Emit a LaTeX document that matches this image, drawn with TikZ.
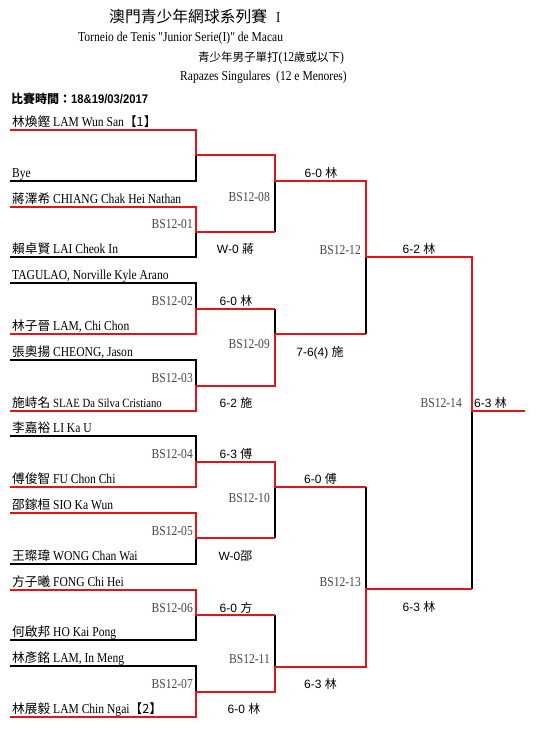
\documentclass[tikz,border=0pt]{standalone}
\usepackage{fontspec}
\setmainfont{Liberation Serif}[FakeStretch=0.85]
\newfontfamily\qfont{Liberation Serif}[FakeStretch=0.85,Ligatures=TeXOff]
\newfontfamily\cjk{Noto Sans CJK TC}
\newfontfamily\sansf{Liberation Sans}
\newfontfamily\sansn{Liberation Sans}[FakeStretch=0.9]
\definecolor{bred}{RGB}{225,20,25}
\definecolor{labgray}{RGB}{70,70,70}
\newcommand\nmf{\fontsize{13.6}{15}\selectfont}
\newcommand\zh[1]{{\cjk\fontsize{12.7}{15}\selectfont #1}}
\newcommand\zs[1]{{\cjk\fontsize{12}{14}\selectfont #1}}
\newcommand\dq{{\qfont\nmf "}}
\begin{document}
\begin{tikzpicture}[x=1pt,y=-1pt,
  win/.style={draw=bred,line width=1.8pt},
  lose/.style={draw=black,line width=1.8pt},
  player/.style={anchor=base west,inner sep=0,font=\nmf},
  mlab/.style={anchor=base east,inner sep=0,font=\nmf,text=labgray},
  score/.style={anchor=base,inner sep=0,font=\sansf\fontsize{12}{14}\selectfont},
  hdr/.style={anchor=base west,inner sep=0,font=\nmf}]
\useasboundingbox (0,0) rectangle (536,752);
% header
\node[hdr] (title) at (109,23) {{\cjk\fontsize{15.8}{18}\selectfont 澳門青少年網球系列賽}\hspace{9pt}{\fontsize{15}{18}\selectfont I}};
\node[hdr] (sub1) at (78,42) {Torneio de Tenis \dq Junior Serie(I)\dq\ de Macau};
\node[hdr] (sub2) at (198,62) {{\cjk\fontsize{11.5}{14}\selectfont 青少年男子單打}(12{\cjk\fontsize{11.5}{14}\selectfont 歲或以下})};
\node[hdr] (sub3) at (180,81) {Rapazes Singulares\ \ (12 e Menores)};
\node[hdr] (date) at (11,103) {{\cjk\bfseries\fontsize{12}{14}\selectfont 比賽時間：}{\sansn\bfseries\fontsize{12.5}{14}\selectfont 18\&19/03/2017}};
% coordinates
\foreach \i/\y in {1/130,2/181,3/207,4/257,5/283,6/334,7/360,8/411,9/436,10/487,11/513,12/564,13/590,14/640,15/666,16/717}
  {\coordinate (L\i) at (10,\y); \coordinate (R\i) at (196,\y);}
\foreach \i/\y in {1/155,2/232,3/309,4/386,5/462,6/538,7/615,8/692}
  {\coordinate (J\i) at (196,\y); \coordinate (K\i) at (275,\y);}
\foreach \i/\y in {1/181,2/334,3/487,4/667}
  {\coordinate (Q\i) at (275,\y); \coordinate (P\i) at (366,\y);}
\foreach \i/\y in {1/257,2/589}
  {\coordinate (S\i) at (366,\y); \coordinate (T\i) at (472,\y);}
\coordinate (F) at (472,411);
\coordinate (FE) at (525,411);
% losing lines
\draw[lose] (L2)--(R2)--(J1);
\draw[lose] (L4)--(R4)--(J2);
\draw[lose] (K2)--(Q1);
\draw[lose] (L5)--(R5)--(J3);
\draw[lose] (K3)--(Q2);
\draw[lose] (L7)--(R7)--(J4);
\draw[lose] (P2)--(S1);
\draw[lose] (L9)--(R9)--(J5);
\draw[lose] (P3)--(S2);
\draw[lose] (K6)--(Q3);
\draw[lose] (L12)--(R12)--(J6);
\draw[lose] (K7)--(Q4);
\draw[lose] (L14)--(R14)--(J7);
\draw[lose] (L15)--(R15)--(J8);
\draw[lose] (T2)--(F);
% winning lines
\draw[win] (L1)--(R1)--(J1)--(K1)--(Q1)--(P1)--(S1)--(T1)--(F)--(FE);
\draw[win] (L3)--(R3)--(J2)--(K2);
\draw[win] (L6)--(R6)--(J3)--(K3);
\draw[win] (L8)--(R8)--(J4)--(K4)--(Q2)--(P2);
\draw[win] (L10)--(R10)--(J5)--(K5)--(Q3)--(P3);
\draw[win] (L11)--(R11)--(J6)--(K6);
\draw[win] (L13)--(R13)--(J7)--(K7);
\draw[win] (L16)--(R16)--(J8)--(K8)--(Q4)--(P4)--(S2)--(T2);
% players
\node[player] (n1) at (12,126.5) {\zh{林煥鏗} LAM Wun San\zh{【1】}};
\node[player] (n2) at (12,177.5) {Bye};
\node[player] (n3) at (12,203.5) {\zh{蔣澤希} CHIANG Chak Hei Nathan};
\node[player] (n4) at (12,253.5) {\zh{賴卓賢} LAI Cheok In};
\node[player] (n5) at (12,279.5) {TAGULAO, Norville Kyle Arano};
\node[player] (n6) at (12,330.5) {\zh{林子晉} LAM, Chi Chon};
\node[player] (n7) at (12,356.5) {\zh{張奧揚} CHEONG, Jason};
\node[player] (n8) at (12,407.5) {\zh{施峙名} {\fontsize{12.6}{14}\selectfont SLAE Da Silva Cristiano}};
\node[player] (n9) at (12,432.5) {\zh{李嘉裕} LI Ka U};
\node[player] (n10) at (12,483.5) {\zh{傅俊智} FU Chon Chi};
\node[player] (n11) at (12,509.5) {\zh{邵鎵桓} SIO Ka Wun};
\node[player] (n12) at (12,560.5) {\zh{王璨瑋} WONG Chan Wai};
\node[player] (n13) at (12,586.5) {\zh{方子曦} FONG Chi Hei};
\node[player] (n14) at (12,636.5) {\zh{何啟邦} HO Kai Pong};
\node[player] (n15) at (12,662.5) {\zh{林彥銘} LAM, In Meng};
\node[player] (n16) at (12,713.5) {\zh{林展毅} LAM Chin Ngai\zh{【2】}};
% match labels
\node[mlab] (m01) at (193,228) {BS12-01};
\node[mlab] (m02) at (193,305) {BS12-02};
\node[mlab] (m03) at (193,382) {BS12-03};
\node[mlab] (m04) at (193,458) {BS12-04};
\node[mlab] (m05) at (193,535) {BS12-05};
\node[mlab] (m06) at (193,612) {BS12-06};
\node[mlab] (m07) at (193,688) {BS12-07};
\node[mlab] (m08) at (270,201) {BS12-08};
\node[mlab] (m09) at (270,348) {BS12-09};
\node[mlab] (m10) at (270,502) {BS12-10};
\node[mlab] (m11) at (270,663) {BS12-11};
\node[mlab] (m12) at (361,254) {BS12-12};
\node[mlab] (m13) at (361,586) {BS12-13};
\node[mlab] (m14) at (462,407) {BS12-14};
% scores
\node[score] (s01) at (235.5,253) {W-0 \zs{蔣}};
\node[score] (s02) at (236,305) {6-0 \zs{林}};
\node[score] (s03) at (236,407) {6-2 \zs{施}};
\node[score] (s04) at (236,458) {6-3 \zs{傅}};
\node[score] (s05) at (235.5,560) {W-0\zs{邵}};
\node[score] (s06) at (236,612) {6-0 \zs{方}};
\node[score] (s07) at (244,713) {6-0 \zs{林}};
\node[score] (s08) at (321,177) {6-0 \zs{林}};
\node[score] (s09) at (320,356) {7-6(4) \zs{施}};
\node[score] (s10) at (320.5,483) {6-0 \zs{傅}};
\node[score] (s11) at (320.5,688) {6-3 \zs{林}};
\node[score] (s12) at (419,253) {6-2 \zs{林}};
\node[score] (s13) at (419,611) {6-3 \zs{林}};
\node[score,anchor=base west] (s14) at (474,407) {6-3 \zs{林}};
\end{tikzpicture}
\end{document}
